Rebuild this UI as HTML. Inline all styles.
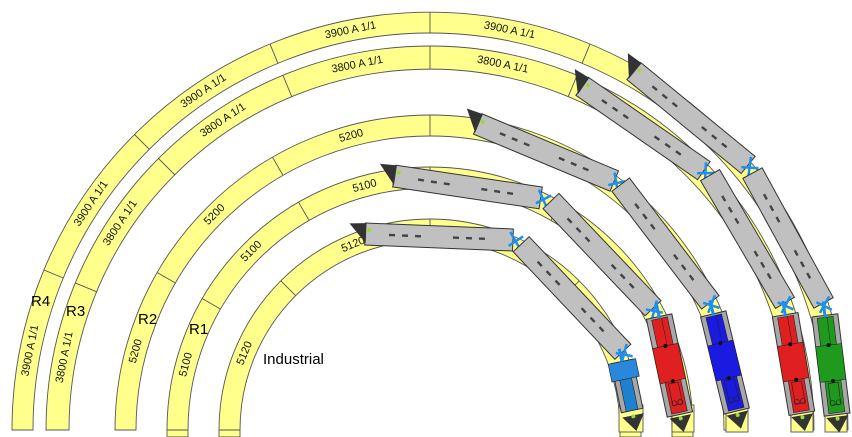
<!DOCTYPE html>
<html><head><meta charset="utf-8"><style>
html,body{margin:0;padding:0;background:#fff;}
svg{display:block;}
.lbl{font-family:"Liberation Sans",sans-serif;font-size:11px;fill:#111;}
.big{font-family:"Liberation Sans",sans-serif;font-size:15px;fill:#000;}
</style></head><body>
<svg width="852" height="437" viewBox="0 0 852 437" xmlns="http://www.w3.org/2000/svg">
<defs>
<symbol id="car" overflow="visible">
  <rect x="-74" y="-11" width="148" height="22" fill="#c0c0c0" stroke="#333" stroke-width="1"/>
  <g fill="#444">
    <rect x="-50" y="-1.2" width="6" height="2.4"/><rect x="-37" y="-1.2" width="6" height="2.4"/><rect x="-24" y="-1.2" width="6" height="2.4"/>
    <rect x="14" y="-1.2" width="6" height="2.4"/><rect x="27" y="-1.2" width="6" height="2.4"/><rect x="40" y="-1.2" width="6" height="2.4"/>
  </g>
  <g stroke="#1e8ff0" stroke-width="2.5"><line x1="71" y1="-8" x2="81" y2="8"/><line x1="70" y1="6" x2="84" y2="-4"/></g>
</symbol>
<symbol id="head" overflow="visible">
  <polygon points="-73,-11 -73,9 -90,-10" fill="#333"/>
  <circle cx="-70" cy="-4" r="2" fill="#9d3"/>
</symbol>
<symbol id="loco" overflow="visible">
  <rect x="-50" y="-13" width="100" height="26" fill="#a8a8a8" stroke="#333"/>
  <rect x="-48" y="-8" width="96" height="16" fill="currentColor" stroke="#222" stroke-width=".6"/>
  <rect x="-20" y="-13" width="36" height="26" fill="currentColor" stroke="#222" stroke-width=".6"/>
  <line x1="-48" y1="-2" x2="-20" y2="-2" stroke="#222" stroke-width=".5"/>
  <rect x="18" y="-5" width="22" height="10" fill="none" stroke="#222" stroke-width=".6"/>
  <circle cx="-20" cy="0" r="2" fill="#111"/><circle cx="16" cy="0" r="2" fill="#111"/>
  <circle cx="38" cy="-3" r="2.5" fill="none" stroke="#222" stroke-width=".6"/>
  <circle cx="38" cy="3" r="2.5" fill="none" stroke="#222" stroke-width=".6"/>
  <line x1="-64" y1="0" x2="-48" y2="0" stroke="#1e8ff0" stroke-width="3"/>
  <polygon points="52,-11 52,11 68,0" fill="#333"/>
  <circle cx="54" cy="0" r="2" fill="#9d3"/>
</symbol>
</defs>

<g fill="#ffff8c" stroke="#555" stroke-width="0.9">
  <!-- R4 -->
  <path d="M12 430 A418 418 0 0 1 848 430 L827 430 A397 397 0 0 0 33 430 Z"/>
  <!-- R3 -->
  <path d="M46 430 A384 384 0 0 1 814 430 L791 430 A361 361 0 0 0 69 430 Z"/>
  <!-- R2 -->
  <path d="M115 430 A315 315 0 0 1 745 430 L724 430 A294 294 0 0 0 136 430 Z"/>
  <!-- R1 -->
  <path d="M167 437 L167 430 A263 263 0 0 1 693 430 L693 437 L672 437 L672 430 A242 242 0 0 0 188 430 L188 437 Z"/>
  <!-- Industrial -->
  <path d="M219 437 L219 430 A211 211 0 0 1 641 430 L641 437 L620 437 L620 430 A190 190 0 0 0 240 430 L240 437 Z"/>
  <!-- bottom straight pieces on right -->
  <rect x="619" y="405" width="24" height="27"/>
  <rect x="672" y="405" width="22" height="27"/>
  <rect x="726" y="405" width="22" height="27"/>
  <rect x="791" y="405" width="22" height="27"/>
  <rect x="825" y="405" width="22" height="27"/>
</g>
<g stroke="#555" stroke-width="0.9">
  <line x1="167" y1="430" x2="188" y2="430"/><line x1="219" y1="430" x2="240" y2="430"/>
  <!-- R4 -->
  <line x1="63.2" y1="278" x2="43.8" y2="269.9"/><line x1="149.3" y1="149.3" x2="134.5" y2="134.5"/>
  <line x1="277.9" y1="63.2" x2="269.9" y2="43.8"/><line x1="430" y1="33" x2="430" y2="12"/>
  <line x1="582.1" y1="63.2" x2="590.1" y2="43.8"/>
  <!-- R3 -->
  <line x1="96.4" y1="291.7" x2="75.2" y2="282.9"/><line x1="174.8" y1="174.8" x2="158.5" y2="158.5"/>
  <line x1="291.7" y1="96.4" x2="282.9" y2="75.2"/><line x1="430" y1="69" x2="430" y2="46"/>
  <line x1="568.3" y1="96.4" x2="577.1" y2="75.2"/>
  <!-- R2 -->
  <line x1="175.4" y1="283" x2="157.2" y2="272.5"/><line x1="283" y1="175.4" x2="272.5" y2="157.2"/>
  <line x1="430" y1="136" x2="430" y2="115"/><line x1="577" y1="175.4" x2="587.5" y2="157.2"/>
  <!-- R1 -->
  <line x1="220.4" y1="309" x2="202.2" y2="298.5"/><line x1="309" y1="220.4" x2="298.5" y2="202.2"/>
  <line x1="430" y1="188" x2="430" y2="167"/><line x1="551" y1="220.4" x2="561.5" y2="202.2"/>
  <!-- Ind -->
  <line x1="295.7" y1="295.7" x2="280.8" y2="280.8"/><line x1="430" y1="240" x2="430" y2="219"/>
  <line x1="564.3" y1="295.7" x2="579.2" y2="280.8"/>
</g>

<!-- track labels -->
<g class="lbl" text-anchor="middle" dominant-baseline="central">
  <g transform="rotate(-78.75 430 430)"><text x="430" y="22.5">3900 A 1/1</text></g>
  <g transform="rotate(-56.25 430 430)"><text x="430" y="22.5">3900 A 1/1</text></g>
  <g transform="rotate(-33.75 430 430)"><text x="430" y="22.5">3900 A 1/1</text></g>
  <g transform="rotate(-11.25 430 430)"><text x="430" y="22.5">3900 A 1/1</text></g>
  <g transform="rotate(11.25 430 430)"><text x="430" y="22.5">3900 A 1/1</text></g>
  <g transform="rotate(-78.75 430 430)"><text x="430" y="57.5">3800 A 1/1</text></g>
  <g transform="rotate(-56.25 430 430)"><text x="430" y="57.5">3800 A 1/1</text></g>
  <g transform="rotate(-33.75 430 430)"><text x="430" y="57.5">3800 A 1/1</text></g>
  <g transform="rotate(-11.25 430 430)"><text x="430" y="57.5">3800 A 1/1</text></g>
  <g transform="rotate(11.25 430 430)"><text x="430" y="57.5">3800 A 1/1</text></g>
  <g transform="rotate(-75 430 430)"><text x="430" y="125.5">5200</text></g>
  <g transform="rotate(-45 430 430)"><text x="430" y="125.5">5200</text></g>
  <g transform="rotate(-15 430 430)"><text x="430" y="125.5">5200</text></g>
  <g transform="rotate(-75 430 430)"><text x="430" y="177.5">5100</text></g>
  <g transform="rotate(-45 430 430)"><text x="430" y="177.5">5100</text></g>
  <g transform="rotate(-15 430 430)"><text x="430" y="177.5">5100</text></g>
  <g transform="rotate(-67.5 430 430)"><text x="430" y="229.5">5120</text></g>
  <g transform="rotate(-22.5 430 430)"><text x="430" y="229.5">5120</text></g>
</g>

<g class="big">
  <text x="31" y="306">R4</text>
  <text x="66" y="316">R3</text>
  <text x="138" y="324">R2</text>
  <text x="189" y="334">R1</text>
  <text x="263" y="364">Industrial</text>
</g>

<!-- Industrial train -->
<use href="#car" transform="translate(439 237) rotate(2.3)"/>
<use href="#head" transform="translate(439 237) rotate(2.3)"/>
<use href="#car" transform="translate(572 298) rotate(46.6)"/>
<g transform="translate(627 386) rotate(78.2)">
  <rect x="-25" y="-11" width="50" height="22" fill="#a8a8a8" stroke="#333"/>
  <rect x="-8" y="-6" width="33" height="12" fill="#2080d0" stroke="#222" stroke-width=".6"/>
  <rect x="-25" y="-14" width="18" height="28" fill="#2a88dc" stroke="#222" stroke-width=".6"/>
  <line x1="-38" y1="0" x2="-25" y2="0" stroke="#1e8ff0" stroke-width="3"/>
  <polygon points="30,-11 30,11 46,0" fill="#333"/>
  <circle cx="31" cy="0" r="2" fill="#9d3"/>
</g>

<!-- R1 train -->
<use href="#car" transform="translate(467.5 187) rotate(8.5)"/>
<use href="#head" transform="translate(467.5 187) rotate(8.5)"/>
<use href="#car" transform="translate(602 254.6) rotate(46.4)"/>
<use href="#loco" style="color:#e02020" transform="translate(669.5 365.5) rotate(78)"/>

<!-- R2 train -->
<use href="#car" transform="translate(546 152.5) rotate(22.7)"/>
<use href="#head" transform="translate(546 152.5) rotate(22.7)"/>
<use href="#car" transform="translate(665.5 243.5) rotate(52.7)"/>
<use href="#loco" style="color:#1a1ae0" transform="translate(725 362.5) rotate(76.4)"/>

<!-- R3 train -->
<use href="#car" transform="translate(643 128.5) rotate(34.7)"/>
<use href="#head" transform="translate(643 128.5) rotate(34.7)"/>
<use href="#car" transform="translate(747.5 239) rotate(59.6)"/>
<use href="#loco" style="color:#e02020" transform="translate(793.5 364) rotate(80.4)"/>

<!-- R4 train -->
<use href="#car" transform="translate(691 118) rotate(39.4)"/>
<use href="#head" transform="translate(691 118) rotate(39.4)"/>
<use href="#car" transform="translate(788 238) rotate(61.3)"/>
<use href="#loco" style="color:#1f9a1f" transform="translate(831 365) rotate(83)"/>
</svg>
</body></html>
